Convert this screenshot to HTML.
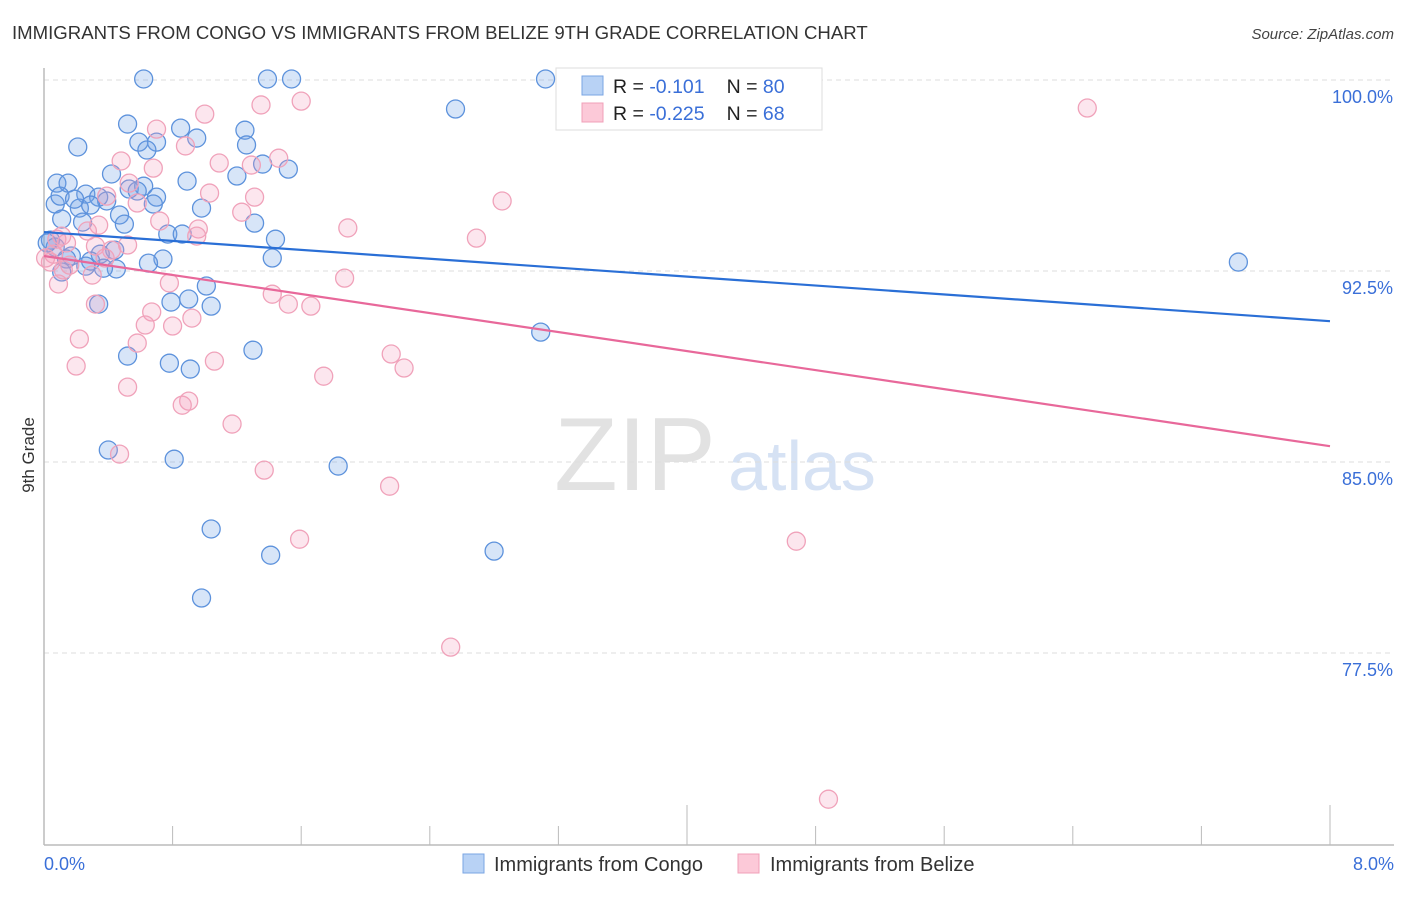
<!DOCTYPE html>
<html><head><meta charset="utf-8"><style>
body{margin:0;background:#fff;font-family:"Liberation Sans",sans-serif}
svg text{font-family:"Liberation Sans",sans-serif}
</style></head><body>
<svg id="chart" width="1406" height="892" xmlns="http://www.w3.org/2000/svg">
<text x="12" y="39" font-size="18.6" fill="#333">IMMIGRANTS FROM CONGO VS IMMIGRANTS FROM BELIZE 9TH GRADE CORRELATION CHART</text>
<text x="1394" y="39" font-size="15" fill="#444" text-anchor="end" font-style="italic">Source: ZipAtlas.com</text>
<text transform="translate(34,455) rotate(-90)" font-size="17" fill="#333" text-anchor="middle">9th Grade</text>
<g>
<text x="635" y="490" font-size="104" fill="#e2e2e2" text-anchor="middle" font-family="Liberation Serif,serif">ZIP</text>
<text x="802" y="490" font-size="70" fill="#d6e2f4" text-anchor="middle">atlas</text>
</g>
<g id="grid"></g><g id="axes"></g><g id="pts"></g><g id="trends"></g>
<g>
<rect x="556" y="68" width="266" height="62" fill="#fff" stroke="#ddd"/>
<rect x="582" y="76" width="21" height="19" fill="#b8d2f5" stroke="#7aa5e3"/>
<rect x="582" y="103" width="21" height="19" fill="#fcc9d8" stroke="#f0a0b8"/>
<text x="613" y="93" font-size="19.5" fill="#222">R = <tspan fill="#3a6fd8"> -0.101</tspan><tspan dx="22">N = </tspan><tspan fill="#3a6fd8">80</tspan></text>
<text x="613" y="120" font-size="19.5" fill="#222">R = <tspan fill="#3a6fd8">-0.225</tspan><tspan dx="22">N = </tspan><tspan fill="#3a6fd8"> 68</tspan></text>
</g>
<g>
<rect x="463" y="854" width="21" height="19" fill="#b8d2f5" stroke="#7aa5e3"/>
<text x="494" y="871" font-size="20" fill="#333">Immigrants from Congo</text>
<rect x="738" y="854" width="21" height="19" fill="#fcc9d8" stroke="#f0a0b8"/>
<text x="770" y="871" font-size="20" fill="#333">Immigrants from Belize</text>
</g>
</svg>
<script>
const yTicks=[100,92.5,85,77.5];
const yTickLabels=["100.0%","92.5%","85.0%","77.5%"];
const xTicks=[0,0.8,1.6,2.4,3.2,4,4.8,5.6,6.4,7.2,8];
const xTickLabels=["0.0%","8.0%"];
const congoX=[.62,1.39,1.54,3.12,2.56,.52,.85,1.25,.95,.59,.70,.21,.64,1.26,1.36,1.52,.42,1.20,.08,.15,.89,.53,.62,.58,.26,.34,.70,.39,.68,.07,.22,.29,.98,.47,.11,.50,1.31,.24,.77,.86,1.44,.04,.07,.44,.35,.17,.29,.74,1.42,.14,.65,.45,.37,.26,.11,1.01,.79,.90,1.04,.34,3.09,.52,1.30,.78,.91,.40,.81,1.83,1.04,1.41,2.80,.98,7.43,.02,.10,.19];
const congoY=[100.04,100.04,100.04,100.04,98.86,98.27,98.11,98.03,97.72,97.56,97.56,97.37,97.25,97.45,96.70,96.50,96.31,96.23,95.95,95.95,96.03,95.72,95.83,95.64,95.52,95.40,95.40,95.25,95.13,95.13,94.97,95.09,94.97,94.70,94.54,94.34,94.38,94.42,93.95,93.95,93.75,93.71,93.44,93.32,93.16,93.09,92.89,92.97,93.01,92.97,92.81,92.58,92.61,92.69,92.46,91.91,91.28,91.40,91.12,91.20,90.10,89.16,89.39,88.88,88.65,85.47,85.11,84.84,82.37,81.34,81.50,79.66,92.85,93.60,95.44,95.32];
const belizeX=[4.45,6.49,1.00,1.35,1.60,.70,.88,1.09,.48,1.46,1.29,.68,.53,1.03,1.31,2.85,.39,.58,1.23,.72,.34,1.89,.96,.95,.27,2.69,.14,.52,.32,.06,.42,.04,.12,.30,.09,1.87,.78,1.42,1.52,1.66,.67,.32,.92,.63,.80,.22,.58,1.06,2.16,2.24,.20,1.74,.52,.90,.86,1.17,.47,1.37,2.15,1.59,4.68,2.53,4.88,.08,.01,.16,.11,.38];
const belizeY=[100.00,98.90,98.66,99.02,99.17,98.07,97.41,96.74,96.82,96.93,96.66,96.54,95.95,95.56,95.40,95.25,95.44,95.17,94.81,94.46,94.30,94.19,94.15,93.87,94.07,93.79,93.60,93.52,93.48,93.16,93.32,92.85,92.54,92.34,91.99,92.22,92.03,91.59,91.20,91.12,90.89,91.20,90.65,90.38,90.34,89.83,89.67,88.96,89.24,88.69,88.77,88.37,87.94,87.39,87.23,86.49,85.31,84.68,84.05,81.97,81.89,77.73,71.76,93.75,93.01,92.73,93.87,93.01];
const congoTrend=[94.03,90.53];
const belizeTrend=[93.09,85.62];
const trendX=[0,8];
const NS="http://www.w3.org/2000/svg";
const X0=44,X1=1330,Y100=80,PXPER=191/7.5;
function xs(v){return X0+v*(X1-X0)/8;}
function ys(v){return Y100+(100-v)*PXPER;}
function mk(tag,attrs,parent){const e=document.createElementNS(NS,tag);for(const k in attrs)e.setAttribute(k,attrs[k]);document.getElementById(parent).appendChild(e);return e;}
yTicks.forEach((t,i)=>{
 const l=mk('line',{x1:44,x2:1394,y1:ys(t),y2:ys(t),stroke:'#ddd','stroke-dasharray':'5,4'},'grid');
 
 
 const tx=mk('text',{x:1393,y:ys(t)+23,'font-size':18,fill:'#3a6fd8','text-anchor':'end'},'grid');
 tx.textContent=yTickLabels[i];
 
 
});
const ax=mk('line',{x1:44,x2:1394,y1:845,y2:845,stroke:'#bbb','stroke-width':1.5},'axes');


const ay=mk('line',{x1:44,x2:44,y1:68,y2:845,stroke:'#bbb','stroke-width':1.5},'axes');


xTicks.forEach((t,i)=>{
 const tall=(i==5||i==10);
 const l=mk('line',{x1:xs(t),x2:xs(t),y1:tall?805:826,y2:845,stroke:'#bbb'},'axes');
 
 
});
[[0,'start',44],[8,'end',1394]].forEach((a,i)=>{
 const tx=mk('text',{x:a[2],y:870,'font-size':18,fill:'#3a6fd8','text-anchor':a[1]},'axes');
 tx.textContent=xTickLabels[i];
 
 
});
congoX.forEach((v,i)=>{
 const c=mk('circle',{cx:xs(v),cy:ys(congoY[i]),r:9,fill:'rgba(110,160,230,0.28)',stroke:'#5d92dc','stroke-width':1.3},'pts');
 
 
});
belizeX.forEach((v,i)=>{
 const c=mk('circle',{cx:xs(v),cy:ys(belizeY[i]),r:9,fill:'rgba(245,160,188,0.26)',stroke:'#f0a2ba','stroke-width':1.3},'pts');
 
 
});
const tb=mk('line',{x1:xs(trendX[0]),x2:xs(trendX[1]),y1:ys(congoTrend[0]),y2:ys(congoTrend[1]),stroke:'#2a6fd6','stroke-width':2.2},'trends');


const tp=mk('line',{x1:xs(trendX[0]),x2:xs(trendX[1]),y1:ys(belizeTrend[0]),y2:ys(belizeTrend[1]),stroke:'#e8689a','stroke-width':2.2},'trends');


</script>
</body></html>
